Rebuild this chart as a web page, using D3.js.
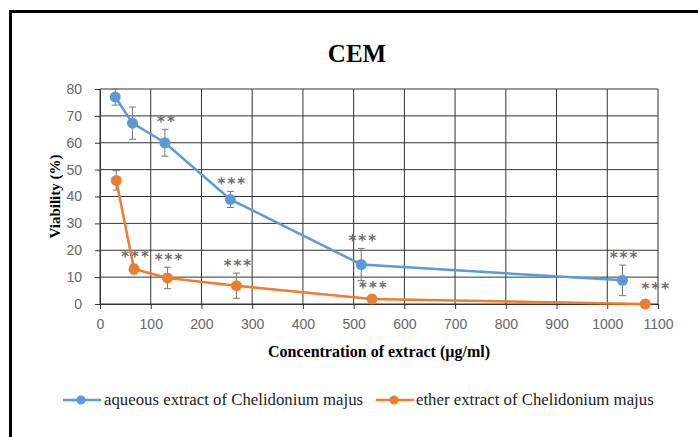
<!DOCTYPE html>
<html><head><meta charset="utf-8">
<script src="https://cdn.jsdelivr.net/npm/d3@7"></script>
<style>body{margin:0;background:#fff;} svg{display:block;}</style>
</head><body>
<svg id="chart" width="698" height="437"></svg>
<script>
const title = "CEM";
const xTitle = "Concentration of extract (µg/ml)";
const yTitle = "Viability (%)";
const seriesNames = ["aqueous extract of Chelidonium majus", "ether extract of Chelidonium majus"];
const seriesColors = ["#5B9BD5", "#ED7D31"];
const aqueousX = [30, 64, 128, 257, 515, 1030];
const aqueousY = [77, 67.3, 60, 38.9, 14.7, 8.8];
const aqueousErr = [3, 6, 5, 3, 6, 5.7];
const aqueousSig = ["", "", "**", "***", "***", "***"];
const etherX = [32, 67, 133, 269, 536, 1075];
const etherY = [46, 13, 9.7, 6.8, 1.9, 0];
const etherErr = [3.6, 1.8, 4, 4.7, 1.3, 0];
const etherSig = ["", "***", "***", "***", "***", "***"];
const xTicks = [0,100,200,300,400,500,600,700,800,900,1000,1100];
const yTicks = [0,10,20,30,40,50,60,70,80];

const svg = d3.select("#chart");
svg.append("rect").attr("width",698).attr("height",437).attr("fill","#fff");
svg.append("rect").attr("x",10.5).attr("y",11.5).attr("width",720).attr("height",460)
  .attr("fill","none").attr("stroke","#000").attr("stroke-width",3);

const x = d3.scaleLinear().domain([0,1100]).range([100,658]);
const y = d3.scaleLinear().domain([0,80]).range([304,89]);

// grid
const g = svg.append("g");
g.selectAll("line.v").data(xTicks).join("line")
  .attr("x1",d=>x(d)).attr("x2",d=>x(d)).attr("y1",y(0)).attr("y2",y(80))
  .attr("stroke","#333").attr("stroke-width",1);
g.selectAll("line.h").data(yTicks).join("line")
  .attr("x1",x(0)).attr("x2",x(1100)).attr("y1",d=>y(d)).attr("y2",d=>y(d))
  .attr("stroke","#333").attr("stroke-width",1);

// axes
const xAxis = svg.append("g").attr("transform",`translate(0,${y(0)})`)
  .call(d3.axisBottom(x).tickValues(xTicks).tickFormat(d3.format("d")).tickSize(5).tickPadding(10));
const yAxis = svg.append("g").attr("transform",`translate(${x(0)},0)`)
  .call(d3.axisLeft(y).tickValues(yTicks).tickFormat(d3.format("d")).tickSize(5).tickPadding(13));
[xAxis,yAxis].forEach(a=>{
  a.select(".domain").attr("stroke","#333");
  a.selectAll(".tick line").attr("stroke","#333");
  a.selectAll("text").attr("fill","#666").style("font-family","'Liberation Sans', Arial, sans-serif").style("font-size","14px");
});

// titles
svg.append("text").attr("x",357).attr("y",62).attr("text-anchor","middle")
  .style("font-family","'Liberation Serif', serif").style("font-weight","bold").style("font-size","25px").text(title);
svg.append("text").attr("x",379).attr("y",357).attr("text-anchor","middle")
  .style("font-family","'Liberation Serif', serif").style("font-weight","bold").style("font-size","16px").text(xTitle);
svg.append("text").attr("transform",`translate(60,${(y(0)+y(80))/2}) rotate(-90)`).attr("text-anchor","middle")
  .style("font-family","'Liberation Serif', serif").style("font-weight","bold").style("font-size","15px").text(yTitle);

const series = [
  {xs:aqueousX, ys:aqueousY, err:aqueousErr, sig:aqueousSig, color:seriesColors[0]},
  {xs:etherX, ys:etherY, err:etherErr, sig:etherSig, color:seriesColors[1]}
];
const line = d3.line().x(d=>x(d.x)).y(d=>y(d.y));
series.forEach((s,si)=>{
  const pts = s.xs.map((v,i)=>({x:v,y:s.ys[i],e:s.err[i],sig:s.sig[i]}));
  // error bars
  const eb = svg.append("g").attr("stroke","#777").attr("stroke-width",1);
  pts.filter(p=>p.e>0).forEach(p=>{
    eb.append("line").attr("x1",x(p.x)).attr("x2",x(p.x)).attr("y1",y(p.y+p.e)).attr("y2",y(p.y-p.e));
    eb.append("line").attr("x1",x(p.x)-3.5).attr("x2",x(p.x)+3.5).attr("y1",y(p.y+p.e)).attr("y2",y(p.y+p.e));
    eb.append("line").attr("x1",x(p.x)-3.5).attr("x2",x(p.x)+3.5).attr("y1",y(p.y-p.e)).attr("y2",y(p.y-p.e));
  });
  svg.append("path").datum(pts).attr("d",line).attr("fill","none").attr("stroke",s.color).attr("stroke-width",2.5);
  svg.append("g").selectAll("circle").data(pts).join("circle")
    .attr("cx",d=>x(d.x)).attr("cy",d=>y(d.y)).attr("r",5.5).attr("fill",s.color);
  // significance
  svg.append("g").selectAll("text").data(pts.filter(p=>p.sig)).join("text")
    .attr("x",d=>x(d.x) + (d.e===0 ? 9 : 0) + 2)
    .attr("y",d=>y(d.y+d.e) + (d.e===0 ? -10 : -2))
    .attr("text-anchor","middle")
    .attr("fill","#6e6e6e").style("font-family","'DejaVu Sans', sans-serif").style("font-size","15px")
    .style("font-weight","bold").style("letter-spacing","2px")
    .text(d=>d.sig);
});

// legend
const leg = [{x:63, tx:104},{x:376, tx:416}];
leg.forEach((l,i)=>{
  svg.append("line").attr("x1",l.x).attr("x2",l.x+38).attr("y1",400).attr("y2",400)
    .attr("stroke",seriesColors[i]).attr("stroke-width",2.5);
  svg.append("circle").attr("cx",l.x+18).attr("cy",400).attr("r",4.5).attr("fill",seriesColors[i]);
  svg.append("text").attr("x",l.tx).attr("y",405)
    .style("font-family","'Liberation Serif', serif").style("font-size","16.8px").attr("fill","#222").text(seriesNames[i]);
});
</script>
</body></html>
